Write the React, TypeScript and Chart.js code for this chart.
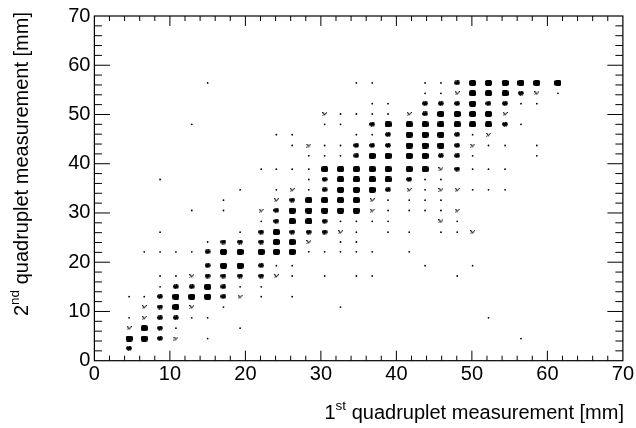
import React, { useEffect, useRef } from "react";
import { Chart, registerables } from "chart.js";

Chart.register(...registerables);

// Readout channels of the two quadruplets (mm)
const firstChannels = [4.6, 6.6, 8.7, 10.8, 12.9, 15, 17.1, 19.3, 22.1, 24.1, 26.2, 28.4, 30.5, 32.6, 34.7, 36.8, 38.9, 41.7, 43.8, 45.9, 48.06, 50.1, 52.2, 54.4, 56.5, 58.6, 61.4];
const secondChannels = [2.5, 4.5, 6.6, 8.7, 10.9, 13, 15, 17.2, 19.3, 22.1, 24.1, 26.1, 28.3, 30.5, 32.6, 34.7, 36.8, 38.9, 41.6, 43.7, 45.9, 48, 50.1, 52.2, 54.3, 56.4];

// Occupancy per second-quadruplet channel, by first-quadruplet channel: 0 none, 1 stray, 2 sparse, 3 medium, 4 dense
const occupancy = [
  "300000000 000000000 000000000",
  "443201000 000000000 000000100",
  "243100010 000000000 000000000",
  "123311000 000000000 000010000",
  "023420100 000010000 000000000",
  "113444321 010000000 000000000",
  "001334311 000000000 000000000",
  "001123333 210101100 001000000",
  "000003443 110000000 100100000",
  "011113444 441111101 000000000",
  "000001333 442011000 000000000",
  "001000013 433321011 011200000",
  "000000001 344311110 021000000",
  "000010102 344444211 112000000",
  "000000100 234444211 110000000",
  "000000010 121344432 122111000",
  "001000000 001344443 110000000",
  "000000001 111444444 423111000",
  "000000000 001113444 433100010",
  "000000000 012113334 443211010",
  "000000000 110001134 443120000",
  "000010000 000110344 444443100",
  "000000000 000211112 344442000",
  "000000000 000000110 333433110",
  "000000000 000000000 112444321",
  "000001000 000001100 113444444",
];

const axisTicks = [0, 10, 20, 30, 40, 50, 60, 70];
const minorTicks = [2, 4, 6, 8];
const xTitle = ["1", "st", " quadruplet measurement [mm]"];
const yTitle = ["2", "nd", " quadruplet measurement [mm]"];

const FONT = '"Liberation Sans", Arial, sans-serif';

// Marker shapes (pixel opacity) for how crowded a channel pair is
const denseMask = [
  [0.3, 0.9, 1, 1, 1, 0.9, 0.3],
  [0.9, 1, 1, 1, 1, 1, 0.9],
  [1, 1, 1, 1, 1, 1, 1],
  [1, 1, 1, 1, 1, 1, 1],
  [0.9, 1, 1, 1, 1, 1, 0.9],
  [0.3, 0.9, 1, 1, 1, 0.9, 0.3],
];
const mediumMask = [
  [0.1, 0.8, 0.6, 1, 0.7, 0.2],
  [0.8, 1, 1, 1, 1, 0.5],
  [0.9, 1, 1, 1, 1, 0.8],
  [0.5, 1, 1, 1, 0.9, 0.3],
  [0, 0.4, 0.8, 0.3, 0.5, 0],
];
const sparseMask = [
  [0.9, 0.4, 0, 0.1, 0.8],
  [0.2, 0.9, 0.2, 0.8, 0.2],
  [0, 0.6, 0.9, 0.3, 0],
  [0.5, 0.2, 0.3, 0, 0],
];

function sprite(mask: number[][]) {
  const c = document.createElement("canvas");
  c.width = mask[0].length;
  c.height = mask.length;
  const g = c.getContext("2d")!;
  mask.forEach((row, j) =>
    row.forEach((a, i) => {
      g.fillStyle = `rgba(0,0,0,${a})`;
      g.fillRect(i, j, 1, 1);
    })
  );
  return c;
}

function cellsAt(level: number) {
  const pts: { x: number; y: number }[] = [];
  occupancy.forEach((row, r) => {
    row.replace(/ /g, "").split("").forEach((c, k) => {
      if (Number(c) === level) pts.push({ x: firstChannels[k], y: secondChannels[r] });
    });
  });
  return pts;
}

const frame = {
  id: "frame",
  afterDatasetsDraw(chart: any) {
    const { ctx, chartArea: a, scales } = chart;
    const xs = scales.x;
    const ys = scales.y;
    ctx.save();
    ctx.strokeStyle = "#000";
    ctx.lineWidth = 1.2;
    ctx.strokeRect(a.left, a.top, a.right - a.left, a.bottom - a.top);
    ctx.lineWidth = 1;
    const seg = (x1: number, y1: number, x2: number, y2: number) => {
      ctx.beginPath();
      ctx.moveTo(x1, y1);
      ctx.lineTo(x2, y2);
      ctx.stroke();
    };
    const drawTick = (v: number, major: boolean) => {
      const px = xs.getPixelForValue(v);
      const py = ys.getPixelForValue(v);
      const xLen = major ? 10 : 5;
      const yLen = major ? 15.5 : 7.5;
      seg(px, a.bottom, px, a.bottom - xLen);
      seg(px, a.top, px, a.top + xLen);
      seg(a.left, py, a.left + yLen, py);
      seg(a.right, py, a.right - yLen, py);
    };
    axisTicks.forEach((t, i) => {
      if (t > 0 && t < 70) drawTick(t, true);
      if (i < axisTicks.length - 1) minorTicks.forEach((m) => drawTick(t + m, false));
    });
    ctx.restore();

    // Axis titles with real superscripts
    const size = 20;
    const sup = 13.5;
    const drawTitle = (parts: string[]) => {
      ctx.fillStyle = "#000";
      ctx.textBaseline = "alphabetic";
      ctx.textAlign = "left";
      ctx.font = `${size}px ${FONT}`;
      const w0 = ctx.measureText(parts[0]).width;
      const w2 = ctx.measureText(parts[2]).width;
      ctx.font = `${sup}px ${FONT}`;
      const w1 = ctx.measureText(parts[1]).width;
      let x = -(w0 + w1 + w2);
      ctx.font = `${size}px ${FONT}`;
      ctx.fillText(parts[0], x, 0);
      x += w0;
      ctx.font = `${sup}px ${FONT}`;
      ctx.fillText(parts[1], x, -9);
      x += w1;
      ctx.font = `${size}px ${FONT}`;
      ctx.fillText(parts[2], x, 0);
    };
    ctx.save();
    ctx.translate(624, 419);
    drawTitle(xTitle);
    ctx.restore();
    ctx.save();
    ctx.translate(28, 12);
    ctx.rotate(-Math.PI / 2);
    drawTitle(yTitle);
    ctx.restore();
  },
};

export default function App() {
  const ref = useRef<HTMLCanvasElement | null>(null);

  useEffect(() => {
    if (!ref.current) return;
    const set = (level: number, pointStyle: any, radius: number) => ({
      data: cellsAt(level),
      pointStyle,
      pointRadius: radius,
      pointBorderWidth: 0,
      backgroundColor: "#000",
      borderColor: "#000",
      showLine: false,
    });
    const chart = new Chart(ref.current, {
      type: "scatter",
      data: {
        datasets: [
          set(1, "circle", 0.9),
          set(2, sprite(sparseMask), 2.5),
          set(3, sprite(mediumMask), 3),
          set(4, sprite(denseMask), 3.5),
        ],
      },
      plugins: [frame],
      options: {
        animation: false,
        responsive: false,
        layout: { padding: { top: 12.7, right: 12.4, left: 0, bottom: 0 }, autoPadding: false },
        plugins: { legend: { display: false }, tooltip: { enabled: false }, title: { display: false } },
        scales: {
          x: {
            type: "linear",
            min: 0,
            max: 70,
            grid: { display: false, drawTicks: false },
            border: { display: false },
            afterFit: (s: any) => {
              s.height = 67.3;
            },
            ticks: {
              stepSize: 10,
              padding: 2,
              color: "#000",
              maxRotation: 0,
              autoSkip: false,
              font: { family: FONT, size: 20 },
            },
          },
          y: {
            type: "linear",
            min: 0,
            max: 70,
            grid: { display: false, drawTicks: false },
            border: { display: false },
            afterFit: (s: any) => {
              s.width = 94.4;
            },
            ticks: {
              stepSize: 10,
              padding: 4,
              color: "#000",
              autoSkip: false,
              font: { family: FONT, size: 20 },
            },
          },
        },
      },
    } as any);
    return () => chart.destroy();
  }, []);

  return (
    <div style={{ position: "fixed", left: 0, top: 0, width: 636, height: 428, background: "#fff" }}>
      <canvas ref={ref} width={636} height={428} style={{ display: "block" }} />
    </div>
  );
}
